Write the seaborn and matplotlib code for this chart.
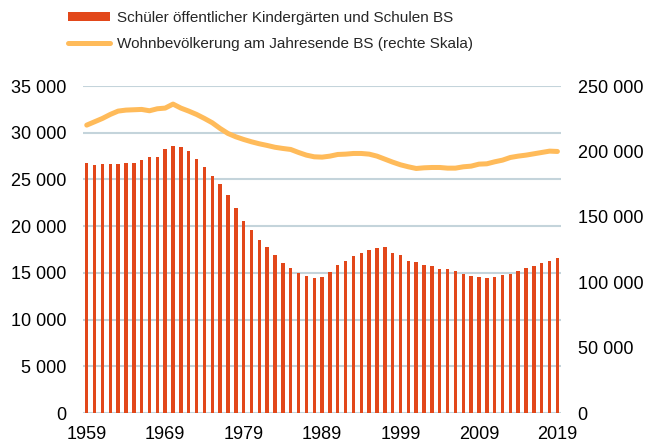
import numpy as np
import pandas as pd
import matplotlib
matplotlib.use("Agg")
import matplotlib.pyplot as plt
import seaborn as sns
from matplotlib.ticker import FuncFormatter
from matplotlib.patches import Patch
from matplotlib.lines import Line2D

# Data
years = list(range(1959, 2020))
pupils = [26714, 26536, 26607, 26607, 26679, 26750, 26714, 27036, 27357, 27393,
          28250, 28607, 28429, 28000, 27143, 26286, 25393, 24464, 23286, 21929,
          20607, 19571, 18536, 17750, 16893, 16107, 15536, 15036, 14643, 14464,
          14607, 15143, 15857, 16321, 16821, 17143, 17500, 17643, 17786, 17179,
          16893, 16321, 16179, 15821, 15714, 15464, 15429, 15214, 14857, 14643,
          14536, 14500, 14536, 14750, 14929, 15179, 15500, 15750, 16036, 16250,
          16643]
population = [220150, 222700, 225255, 228316, 230867, 231633, 231888, 232143, 231122, 232653,
              233163, 236224, 233163, 230867, 228316, 225255, 221939, 217602, 213776, 211224,
              209184, 207398, 205867, 204592, 203200, 202296, 201531, 199235, 197194, 195918,
              195663, 196429, 197704, 197959, 198469, 198469, 197959, 196429, 194133, 191837,
              189796, 188265, 186990, 187500, 187755, 187755, 187245, 187245, 188265, 188776,
              190306, 190561, 192092, 193367, 195408, 196429, 197194, 198214, 199235, 200255,
              200000]
tick_years = [1959, 1969, 1979, 1989, 1999, 2009, 2019]
label_bars = "Schüler öffentlicher Kindergärten und Schulen BS"
label_line = "Wohnbevölkerung am Jahresende BS (rechte Skala)"

df = pd.DataFrame({"Jahr": years, "Schueler": pupils, "Bevoelkerung": population})

bar_color = "#e2471a"
line_color = "#ffbb5a"
grid_color = "#c4d4db"

sns.set_style("white")
plt.rcParams['font.family'] = ['Liberation Sans', 'DejaVu Sans']

fig = plt.figure(figsize=(6.47, 4.43), dpi=100)
ax = fig.add_axes([0.128, 0.0677, 0.739, 0.738])

sns.barplot(data=df, x="Jahr", y="Schueler", native_scale=True, width=0.44,
            color=bar_color, saturation=1, linewidth=0, ax=ax, zorder=2)

ax2 = ax.twinx()
sns.lineplot(data=df, x="Jahr", y="Bevoelkerung", color=line_color, linewidth=3.6,
             ax=ax2, zorder=3)

ax.set_xlim(1958.5, 2019.45)
ax.set_ylim(0, 35000)
ax2.set_ylim(0, 250000)
ax.set_yticks(range(0, 35001, 5000))
ax2.set_yticks(range(0, 250001, 50000))
ax.set_xticks(tick_years)
ax.set_xticklabels([str(y) for y in tick_years])

fmt = FuncFormatter(lambda v, p: f"{int(v):,}".replace(",", " "))
ax.yaxis.set_major_formatter(fmt)
ax2.yaxis.set_major_formatter(fmt)

ax.set_axisbelow(True)
ax.yaxis.grid(True, color=grid_color, linewidth=1.5)
for a in (ax, ax2):
    for s in a.spines.values():
        s.set_visible(False)
    a.set_xlabel("")
    a.set_ylabel("")
    a.tick_params(length=0, labelsize=13, colors="#000000")
ax.tick_params(axis="y", pad=11.5)
ax.tick_params(axis="x", pad=9)
ax2.tick_params(axis="y", pad=12)

handles = [Patch(facecolor=bar_color, edgecolor="none"),
           Line2D([0], [0], color=line_color, linewidth=3.6, solid_capstyle="round")]
fig.legend(handles, [label_bars, label_line], loc="upper left",
           bbox_to_anchor=(68 / 647, 1 - 11 / 443), frameon=False, fontsize=11,
           borderpad=0, borderaxespad=0,
           handlelength=2.75, handleheight=0.5, handletextpad=0.45, labelspacing=0.8)

fig.savefig("out.png", dpi=100)
